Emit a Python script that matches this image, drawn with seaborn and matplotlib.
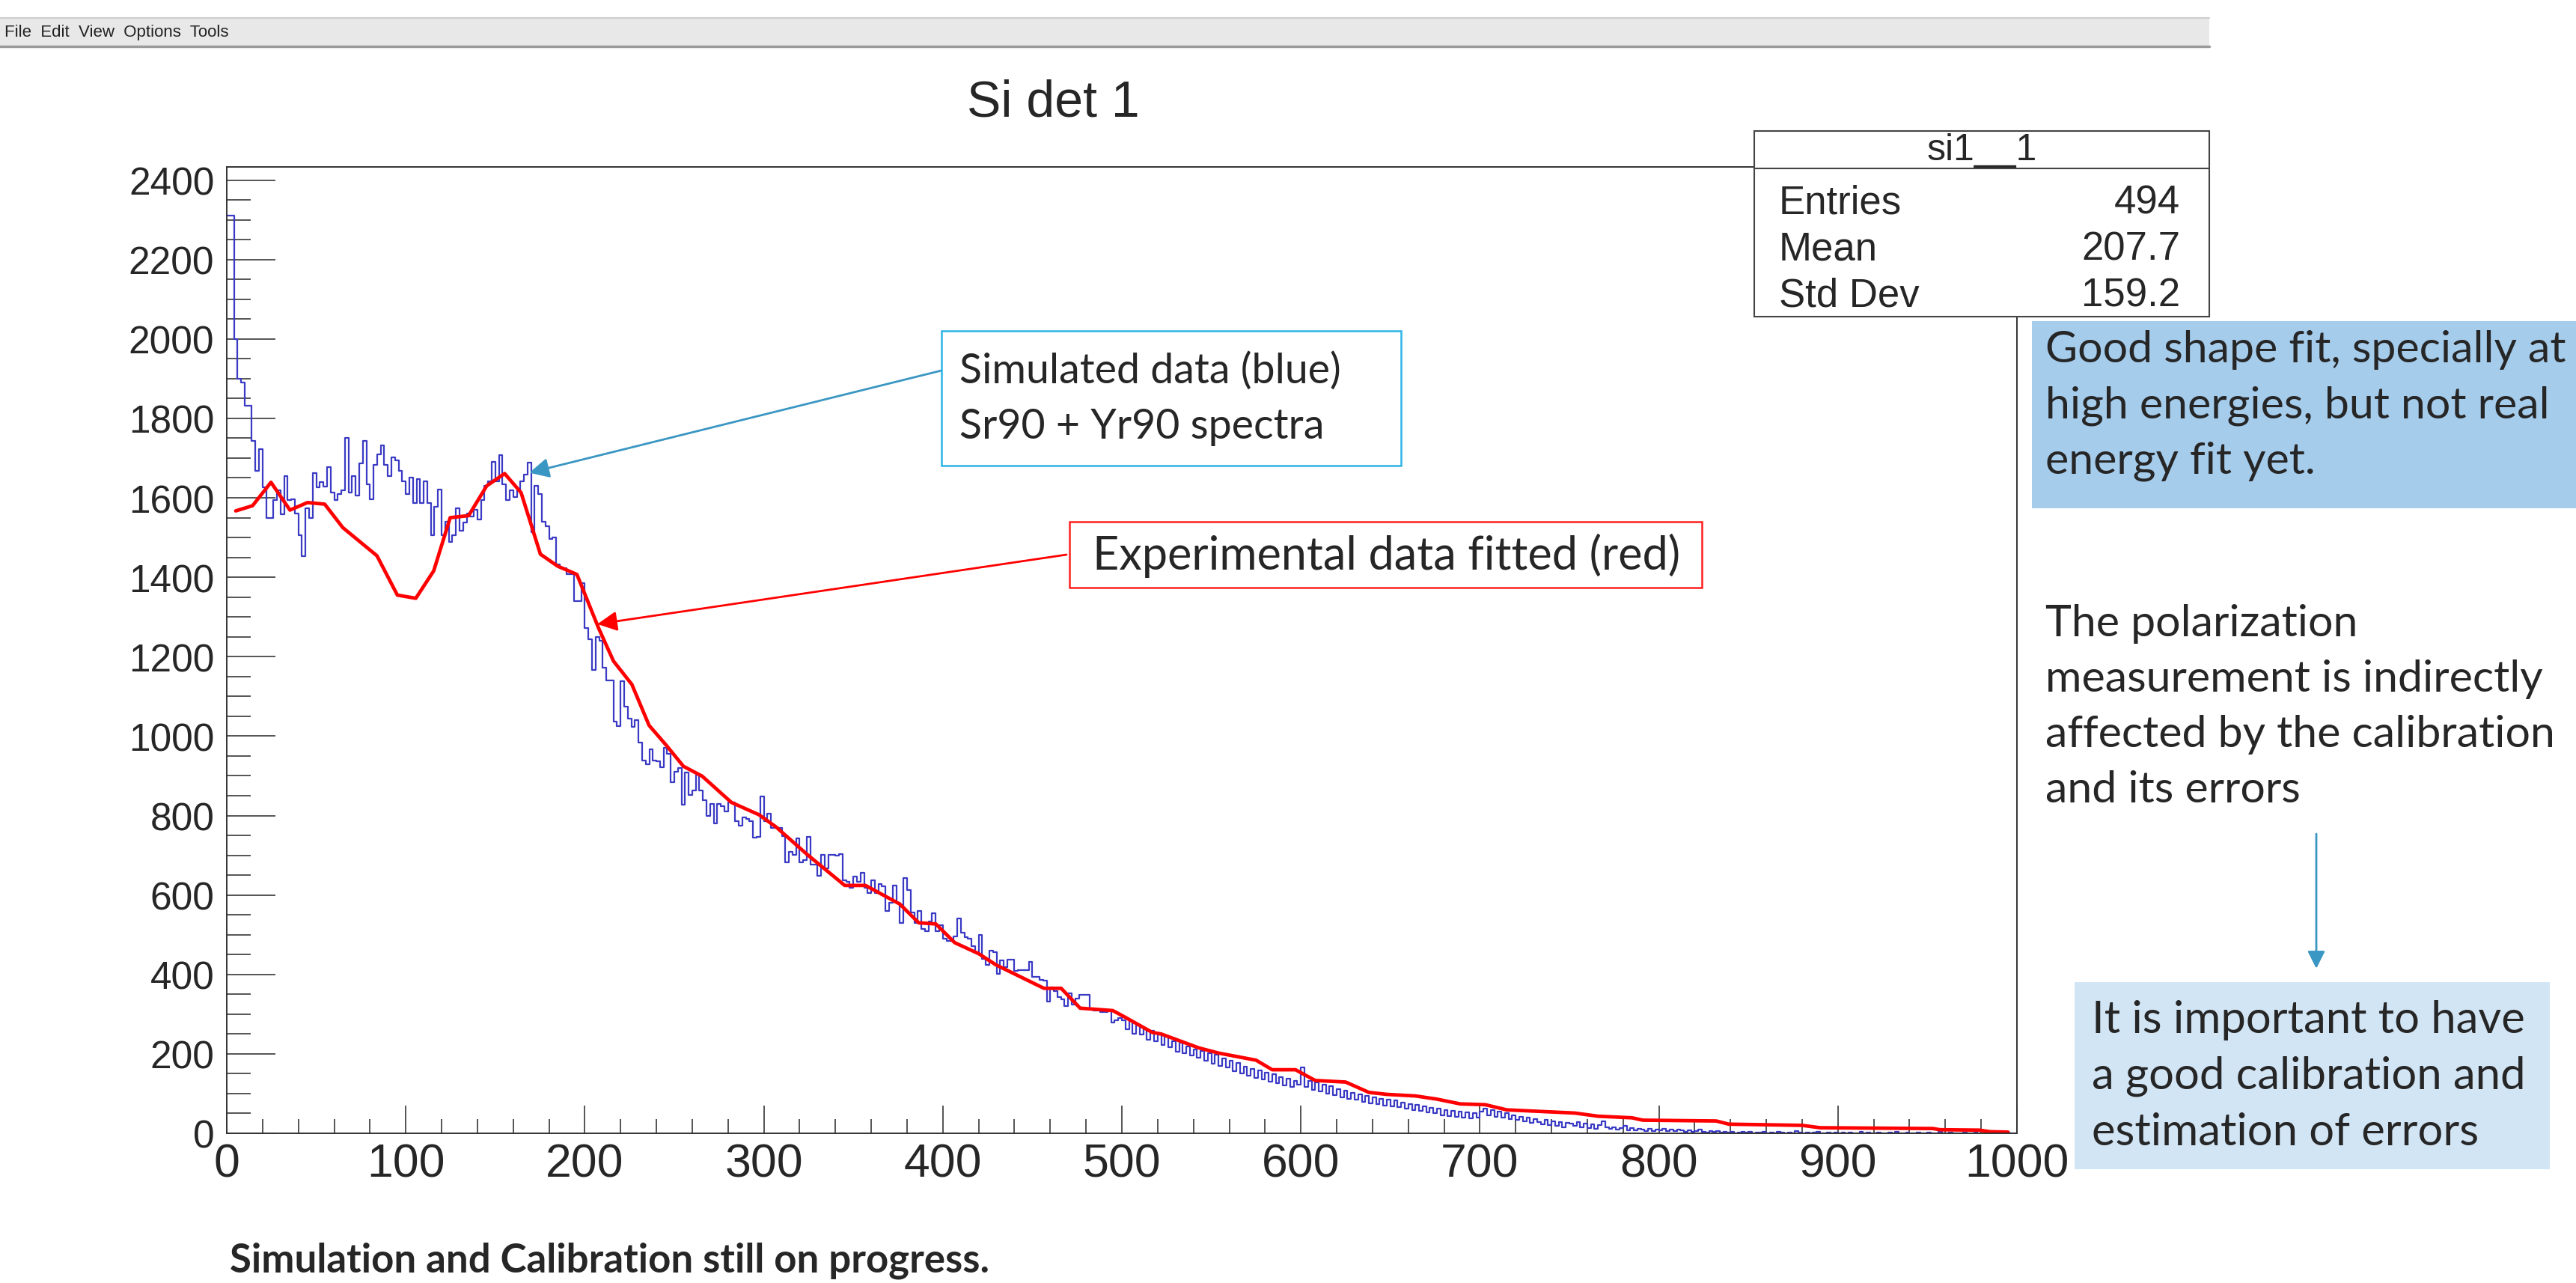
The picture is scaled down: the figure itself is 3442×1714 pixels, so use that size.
import numpy as np
import pandas as pd
import seaborn as sns
import matplotlib.pyplot as plt
from matplotlib.patches import Rectangle

# simulated spectrum (blue): counts per 2-unit bin from 0 to 1000
sim_counts = [
    2311, 2311, 2000, 1900, 1890, 1832, 1832, 1744, 1667, 1723, 1626, 1549, 1549, 1594, 1618, 1558, 1655, 1594, 1597, 1561, 1505, 1453, 1574, 1549, 1662,
    1626, 1639, 1629, 1678, 1613, 1594, 1610, 1618, 1751, 1613, 1654, 1605, 1686, 1744, 1634, 1597, 1683, 1710, 1731, 1683, 1655, 1702, 1694, 1667, 1642,
    1610, 1650, 1586, 1647, 1586, 1642, 1586, 1505, 1578, 1621, 1505, 1540, 1489, 1505, 1573, 1518, 1537, 1561, 1553, 1569, 1545, 1594, 1631, 1642, 1691,
    1642, 1707, 1634, 1594, 1618, 1602, 1618, 1642, 1659, 1688, 1513, 1631, 1610, 1540, 1529, 1497, 1500, 1432, 1422, 1422, 1408, 1408, 1340, 1340, 1386,
    1273, 1244, 1167, 1250, 1240, 1173, 1140, 1140, 1036, 1025, 1138, 1074, 1045, 1024, 1040, 984, 939, 930, 967, 939, 936, 922, 971, 955, 884,
    911, 920, 827, 908, 852, 864, 902, 864, 839, 799, 830, 780, 830, 824, 811, 833, 833, 786, 774, 796, 791, 786, 745, 746, 849,
    786, 805, 768, 768, 768, 749, 683, 708, 702, 743, 683, 688, 746, 677, 677, 649, 702, 668, 702, 702, 699, 703, 637, 633, 618,
    646, 633, 655, 618, 605, 637, 605, 627, 621, 559, 580, 624, 580, 530, 643, 612, 556, 530, 560, 515, 509, 534, 554, 509, 523,
    490, 485, 485, 496, 540, 506, 493, 490, 471, 456, 499, 440, 424, 459, 456, 402, 435, 418, 437, 437, 409, 410, 410, 410, 432,
    393, 393, 387, 384, 331, 368, 359, 343, 337, 321, 353, 325, 340, 349, 349, 349, 312, 309, 309, 306, 306, 309, 278, 284, 290,
    285, 262, 282, 250, 272, 248, 262, 236, 258, 232, 248, 222, 244, 216, 232, 206, 228, 202, 218, 196, 212, 190, 208, 182, 202,
    176, 198, 170, 188, 166, 182, 156, 178, 150, 168, 146, 162, 140, 158, 136, 152, 130, 148, 126, 142, 120, 138, 116, 132, 122,
    165, 116, 132, 110, 128, 106, 122, 100, 118, 96, 112, 90, 108, 86, 102, 84, 98, 80, 94, 76, 90, 74, 86, 70, 84,
    68, 82, 66, 78, 62, 74, 58, 72, 56, 68, 52, 64, 50, 62, 46, 58, 44, 56, 42, 54, 40, 52, 38, 50, 40,
    55, 62, 46, 58, 42, 54, 40, 50, 36, 46, 33, 42, 30, 40, 26, 36, 28, 23, 33, 20, 30, 18, 28, 16, 26,
    24, 18, 28, 16, 25, 14, 22, 12, 20, 30, 16, 11, 16, 9, 14, 18, 8, 13, 7, 12, 9, 6, 11, 5, 10,
    8, 12, 6, 10, 5, 9, 7, 4, 8, 3, 6, 9, 4, 2, 5, 3, 6, 2, 4, 1, 3, 0, 2, 4, 1,
    3, 0, 2, 1, 4, 0, 2, 0, 3, 1, 0, 2, 0, 5, 1, 0, 2, 0, 1, 3, 0, 0, 2, 0, 1,
    0, 2, 0, 1, 0, 0, 3, 0, 1, 0, 0, 2, 0, 0, 1, 0, 4, 0, 0, 1, 0, 0, 2, 0, 0,
    1, 0, 0, 3, 0, 0, 1, 0, 0, 0, 2, 0, 0, 1, 0, 0, 0, 1, 0, 0, 0, 0, 1, 0, 0,
]
bin_edges = list(range(0, 1001, 2))

# experimental data fitted (red polyline)
fit_x = [5, 14.4, 24.7, 35.3, 45.1, 54.7, 64.8, 83.9, 95.3, 105.6, 115.6, 124.8, 135.1, 145.2, 155.2,
         164.4, 175.2, 184.8, 195.6, 207.6, 216, 226.3, 235.9, 245.5, 255.1, 265.6, 281.9, 297.3, 306.9,
         324.2, 345.2, 356.8, 376, 386.5, 396.1, 406.6, 420.1, 429.7, 456.5, 466.1, 476.7, 494.9, 500.3,
         517, 522, 543, 554, 575, 584, 597, 608, 625, 638, 648, 664, 676, 689, 703, 715, 734, 753, 766,
         785, 791, 832, 839, 880, 890, 953, 957, 979, 985, 995]
fit_y = [1567, 1580, 1639, 1569, 1588, 1584, 1525, 1454, 1355, 1347, 1416, 1550, 1555, 1630, 1661,
         1613, 1458, 1428, 1407, 1273, 1189, 1130, 1027, 977, 924, 899, 833, 802, 771,
         702, 624, 624, 577, 530, 527, 480, 452, 424, 365, 365, 315, 309, 296,
         254, 250, 215, 202, 184, 160, 160, 133, 129, 103, 98, 94, 86, 74, 72, 59, 55, 51, 43,
         39, 33, 31, 23, 20, 14, 12, 9, 8, 4, 3]

x_ticks = list(range(0, 1001, 100))
y_ticks = list(range(0, 2401, 200))

hist_name = 'si1__1'
stat_names = ['Entries', 'Mean', 'Std Dev']
stat_values = ['494', '207.7', '159.2']

menu_text = 'File  Edit  View  Options  Tools'
title = 'Si det 1'
sim_note = ['Simulated data (blue)', 'Sr90 + Yr90 spectra']
fit_note = 'Experimental data fitted (red)'
shape_note = ['Good shape fit, specially at', 'high energies, but not real', 'energy fit yet.']
pol_note = ['The polarization', 'measurement is indirectly', 'affected by the calibration', 'and its errors']
calib_note = ['It is important to have', 'a good calibration and', 'estimation of errors']
footer = 'Simulation and Calibration still on progress.'

W, H = 3442, 1715
sns.set_style('ticks')
plt.rcParams['font.family'] = ['Liberation Sans', 'DejaVu Sans']
slide_font = ['Lato', 'DejaVu Sans']

fig = plt.figure(figsize=(W / 100, H / 100), dpi=100)
ax = fig.add_axes([303 / W, 1 - 1515 / H, 2392 / W, 1291 / H])

df_sim = pd.DataFrame({'x': np.array(bin_edges[:-1]) + 1, 'counts': sim_counts})
sns.histplot(data=df_sim, x='x', weights='counts', bins=bin_edges, element='step',
             fill=False, color='#3a3ac4', linewidth=1.6, ax=ax)
sns.lineplot(x=fit_x, y=fit_y, color='#ff0000', linewidth=3.4, sort=False, estimator=None, ax=ax)

ax.set_xlim(0, 1000)
ax.set_ylim(0, 2433)
ax.set_xlabel('')
ax.set_ylabel('')
ax.set_xticks(x_ticks)
ax.set_yticks(y_ticks)
ax.set_xticks(np.arange(0, 1001, 20), minor=True)
ax.set_yticks(np.arange(0, 2433, 50), minor=True)
ax.tick_params(axis='x', which='major', direction='in', length=27, width=1.1, labelsize=45, pad=8)
ax.tick_params(axis='x', which='minor', direction='in', length=14, width=1.1)
ax.tick_params(axis='y', which='major', direction='in', length=47, width=1.1, labelsize=37, pad=12)
ax.tick_params(axis='y', which='minor', direction='in', length=23, width=1.1)
for s in ax.spines.values():
    s.set_visible(True)
    s.set_linewidth(1.4)
    s.set_color('#333333')

# overlay in pixel coordinates for the canvas decorations and slide notes
ov = fig.add_axes([0, 0, 1, 1], zorder=5)
ov.set_xlim(0, W)
ov.set_ylim(H, 0)
ov.axis('off')
ov.patch.set_alpha(0)

ov.add_patch(Rectangle((0, 25), 2952, 38, facecolor='#e8e8e8', edgecolor='none'))
ov.plot([0, 2952], [25, 25], color='#cccccc', lw=1.5)
ov.plot([0, 2952], [63, 63], color='#9a9a9a', lw=2.5)
ov.text(6, 44, menu_text, fontsize=16, va='center', color='#222222')

ov.text(1407, 137, title, fontsize=49, ha='center', va='center')

# stats box
ov.add_patch(Rectangle((2344, 176), 608, 248, facecolor='white', edgecolor='#444444', lw=1.5))
ov.plot([2344, 2952], [226, 226], color='#444444', lw=1.5)
ov.text(2648, 201, hist_name, fontsize=36, ha='center', va='center')
for i, (n, v) in enumerate(zip(stat_names, stat_values)):
    ov.text(2377, 272 + i * 62, n, fontsize=38, va='center')
    ov.text(2913, 272 + i * 62, v, fontsize=38, va='center', ha='right')

# annotation boxes
ov.add_patch(Rectangle((1258, 443), 614, 180, facecolor='white', edgecolor='#2cb4e6', lw=1.8))
for i, line in enumerate(sim_note):
    ov.text(1282, 496 + i * 75, line, fontsize=40, va='center', family=slide_font)
ax.annotate('', xy=(169, 1663), xycoords='data', xytext=(1258, H - 496), textcoords='figure pixels',
            arrowprops=dict(arrowstyle='-|>', color='#3a96c3', lw=2, mutation_scale=40,
                            shrinkA=0, shrinkB=0), zorder=6)

ov.add_patch(Rectangle((1429, 698), 845, 88, facecolor='white', edgecolor='#ff2020', lw=1.8))
ov.text(1460, 742, fit_note, fontsize=44, va='center', family=slide_font)
ax.annotate('', xy=(207, 1282), xycoords='data', xytext=(1425, H - 742), textcoords='figure pixels',
            arrowprops=dict(arrowstyle='-|>', color='#ff0000', lw=2, mutation_scale=40,
                            shrinkA=0, shrinkB=0), zorder=6)

ov.add_patch(Rectangle((2715, 430), 727, 250, facecolor='#a6ccec', edgecolor='none'))
for i, line in enumerate(shape_note):
    ov.text(2733, 468 + i * 74, line, fontsize=42.5, va='center', family=slide_font)

for i, line in enumerate(pol_note):
    ov.text(2733, 834 + i * 74, line, fontsize=42.5, va='center', family=slide_font)

ov.annotate('', xy=(3095, 1295), xytext=(3095, 1115),
            arrowprops=dict(arrowstyle='-|>', color='#3a96c3', lw=2, mutation_scale=35,
                            shrinkA=0, shrinkB=0))

ov.add_patch(Rectangle((2772, 1313), 635, 250, facecolor='#d2e5f5', edgecolor='none'))
for i, line in enumerate(calib_note):
    ov.text(2795, 1363 + i * 75, line, fontsize=43, va='center', family=slide_font)

ov.text(307, 1684, footer, fontsize=38, va='center', fontweight='bold', family=slide_font)

fig.savefig('out.png', dpi=100)
